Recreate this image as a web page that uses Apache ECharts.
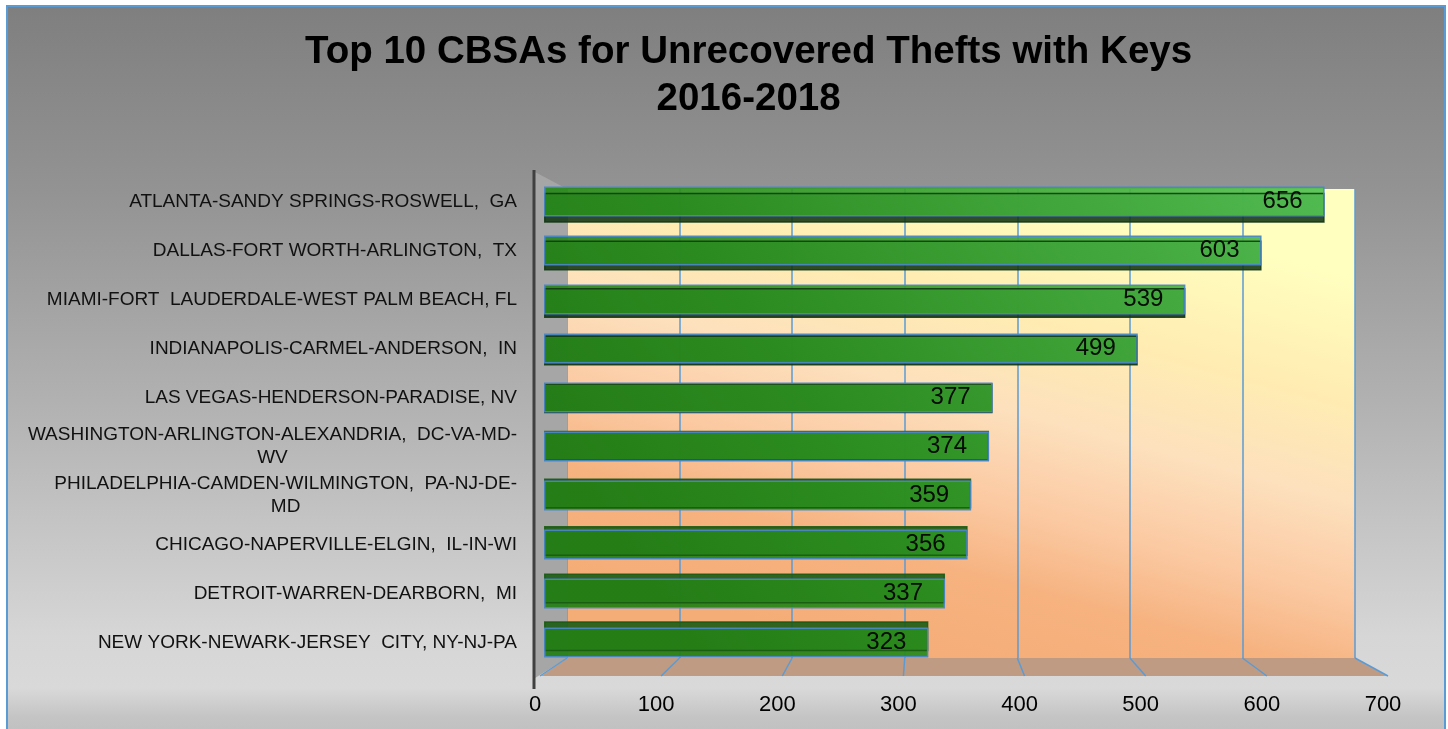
<!DOCTYPE html>
<html>
<head>
<meta charset="utf-8">
<script src="https://cdn.jsdelivr.net/npm/echarts@6/dist/echarts.min.js"></script>
<style>
  html, body { margin: 0; padding: 0; }
  body { width: 1448px; height: 729px; overflow: hidden; background: #ffffff; }
  #frame {
    position: absolute; left: 6px; top: 5px; width: 1436px; height: 740px;
    border: 2px solid #5b9bd5;
    background: linear-gradient(to bottom, #7f7f7f 0%, #939393 25%, #b3b3b3 55%, #d6d6d6 85%, #d9d9d9 92%, #c4c4c4 96%, #bdbdbd 100%);
  }
  #main { position: absolute; left: 0; top: 0; width: 1448px; height: 729px; }
</style>
</head>
<body>
<div id="frame"></div>
<div id="main"></div>
<script>
// 数据
const cities = [
  'ATLANTA-SANDY SPRINGS-ROSWELL,  GA',
  'DALLAS-FORT WORTH-ARLINGTON,  TX',
  'MIAMI-FORT  LAUDERDALE-WEST PALM BEACH, FL',
  'INDIANAPOLIS-CARMEL-ANDERSON,  IN',
  'LAS VEGAS-HENDERSON-PARADISE, NV',
  'WASHINGTON-ARLINGTON-ALEXANDRIA,  DC-VA-MD-\nWV',
  'PHILADELPHIA-CAMDEN-WILMINGTON,  PA-NJ-DE-\nMD',
  'CHICAGO-NAPERVILLE-ELGIN,  IL-IN-WI',
  'DETROIT-WARREN-DEARBORN,  MI',
  'NEW YORK-NEWARK-JERSEY  CITY, NY-NJ-PA'
]
const thefts = [656, 603, 539, 499, 377, 374, 359, 356, 337, 323]
const xTicks = [0, 100, 200, 300, 400, 500, 600, 700]

const xMin = xTicks[0]
const xMax = xTicks[xTicks.length - 1]
const xStep = xTicks[1] - xTicks[0]
const font = 'Liberation Sans, Arial, sans-serif'

let box = document.querySelector('#main')
let myChart = echarts.init(box)

// 3D 效果：上面的柱子露出底面，下面的柱子露出顶面
let barData = thefts.map(function (v, i) {
  let dy = (4.5 - i) * 1.4
  return {
    value: v,
    itemStyle: {
      shadowOffsetY: dy,
      shadowColor: dy > 0 ? 'rgba(18,55,20,0.95)' : 'rgba(25,90,18,0.95)'
    }
  }
})

let titleStyle = { fontFamily: font, fontSize: 38.5, fontWeight: 'bold', color: '#000', lineHeight: 47 }

let option = {
  animation: false,
  backgroundColor: 'transparent',
  title: {
    text: '{a|Top 10 CBSAs for Unrecovered Thefts with Keys}\n{b|2016-2018}',
    left: 300,
    top: 24,
    padding: 5,
    textStyle: {
      fontFamily: font,
      fontSize: 38.5,
      fontWeight: 'bold',
      color: '#000',
      lineHeight: 47,
      rich: {
        a: titleStyle,
        b: Object.assign({ align: 'center' }, titleStyle)
      }
    }
  },
  grid: [
    // 后墙
    { left: 567, right: 93, top: 189, bottom: 71, show: true, borderWidth: 0,
      backgroundColor: new echarts.graphic.LinearGradient(0.42, 1, 0.58, 0, [
        { offset: 0, color: '#f5ad78' },
        { offset: 0.2, color: '#f6b27f' },
        { offset: 0.36, color: '#fbc9a2' },
        { offset: 0.55, color: '#fde0bd' },
        { offset: 0.75, color: '#ffecb2' },
        { offset: 1, color: '#ffffc0' }
      ]) },
    // 柱子
    { left: 544, width: 833, top: 177, height: 490 },
    // 刻度标签
    { left: 535, width: 848, top: 680, height: 8 }
  ],
  xAxis: [
    { gridIndex: 0, type: 'value', min: xMin, max: xMax, interval: xStep,
      axisLabel: { show: false }, axisLine: { show: false }, axisTick: { show: false },
      splitLine: { show: true, lineStyle: { color: '#5b9bd5', width: 1.5 } } },
    { gridIndex: 1, type: 'value', min: xMin, max: xMax, interval: xStep,
      axisLabel: { show: false }, axisLine: { show: false }, axisTick: { show: false },
      splitLine: { show: false } },
    { gridIndex: 2, type: 'value', min: xMin, max: xMax, interval: xStep,
      axisLine: { show: false }, axisTick: { show: false }, splitLine: { show: false },
      axisLabel: { margin: 6, fontSize: 22, color: '#000', fontFamily: font } }
  ],
  yAxis: [
    { gridIndex: 0, type: 'category', data: cities, show: false },
    { gridIndex: 1, type: 'category', data: cities, inverse: true,
      axisLine: { show: false }, axisTick: { show: false },
      axisLabel: {
        margin: 27,
        fontSize: 19,
        color: '#111',
        fontFamily: font,
        lineHeight: 23,
        formatter: function (v) {
          let parts = v.split('\n')
          if (parts.length < 2) return v
          return '{a|' + parts[0] + '}\n{m|' + parts[1] + '}'
        },
        rich: {
          a: { fontSize: 19, lineHeight: 23, color: '#111', fontFamily: font },
          m: { fontSize: 19, lineHeight: 23, color: '#111', align: 'center', fontFamily: font }
        }
      } },
    { gridIndex: 2, type: 'category', data: ['a'], show: false }
  ],
  series: [{
    name: 'thefts',
    type: 'bar',
    xAxisIndex: 1,
    yAxisIndex: 1,
    data: barData,
    barWidth: 30,
    itemStyle: {
      color: new echarts.graphic.LinearGradient(700, 650, 1330, 200, [
        { offset: 0, color: '#247f16' },
        { offset: 0.3, color: '#2b8f1f' },
        { offset: 1, color: '#53c253' }
      ], true),
      opacity: 0.93,
      borderColor: '#4a86c8',
      borderWidth: 1.5,
      shadowOffsetX: 0,
      shadowBlur: 0
    },
    label: {
      show: true,
      position: 'insideRight',
      distance: 22,
      fontSize: 24,
      color: '#000',
      fontFamily: font
    }
  }]
}
myChart.setOption(option)

// 3D 装饰：地板、左墙、透视线
let backY = 189 + (729 - 189 - 71)
let frontY = 676
let backL = myChart.convertToPixel({ xAxisIndex: 0 }, xMin)
let backR = myChart.convertToPixel({ xAxisIndex: 0 }, xMax)
let frontL = myChart.convertToPixel({ xAxisIndex: 2 }, xMin) + 6
let frontR = myChart.convertToPixel({ xAxisIndex: 2 }, xMax) + 5

let deco = [
  { type: 'polygon', z: 0, silent: true,
    shape: { points: [[backL, backY], [backR, backY], [frontR, frontY], [frontL, frontY]] },
    style: { fill: '#bf9b83' } },
  { type: 'polygon', z: 0, silent: true,
    shape: { points: [[535, 172], [backL, 189], [backL, backY], [535, frontY + 2]] },
    style: { fill: '#a6a6a6' } },
  { type: 'line', z: 10, silent: true,
    shape: { x1: 534, y1: 170, x2: 534, y2: 689 },
    style: { stroke: '#404040', lineWidth: 3 } }
]
xTicks.forEach(function (t) {
  let bx = myChart.convertToPixel({ xAxisIndex: 0 }, t)
  let fx = myChart.convertToPixel({ xAxisIndex: 2 }, t) + 5
  deco.push({ type: 'line', z: 1, silent: true,
    shape: { x1: bx, y1: backY, x2: fx, y2: frontY },
    style: { stroke: '#5b9bd5', lineWidth: 1.5 } })
})
myChart.setOption({ graphic: { elements: deco } })
</script>
</body>
</html>
